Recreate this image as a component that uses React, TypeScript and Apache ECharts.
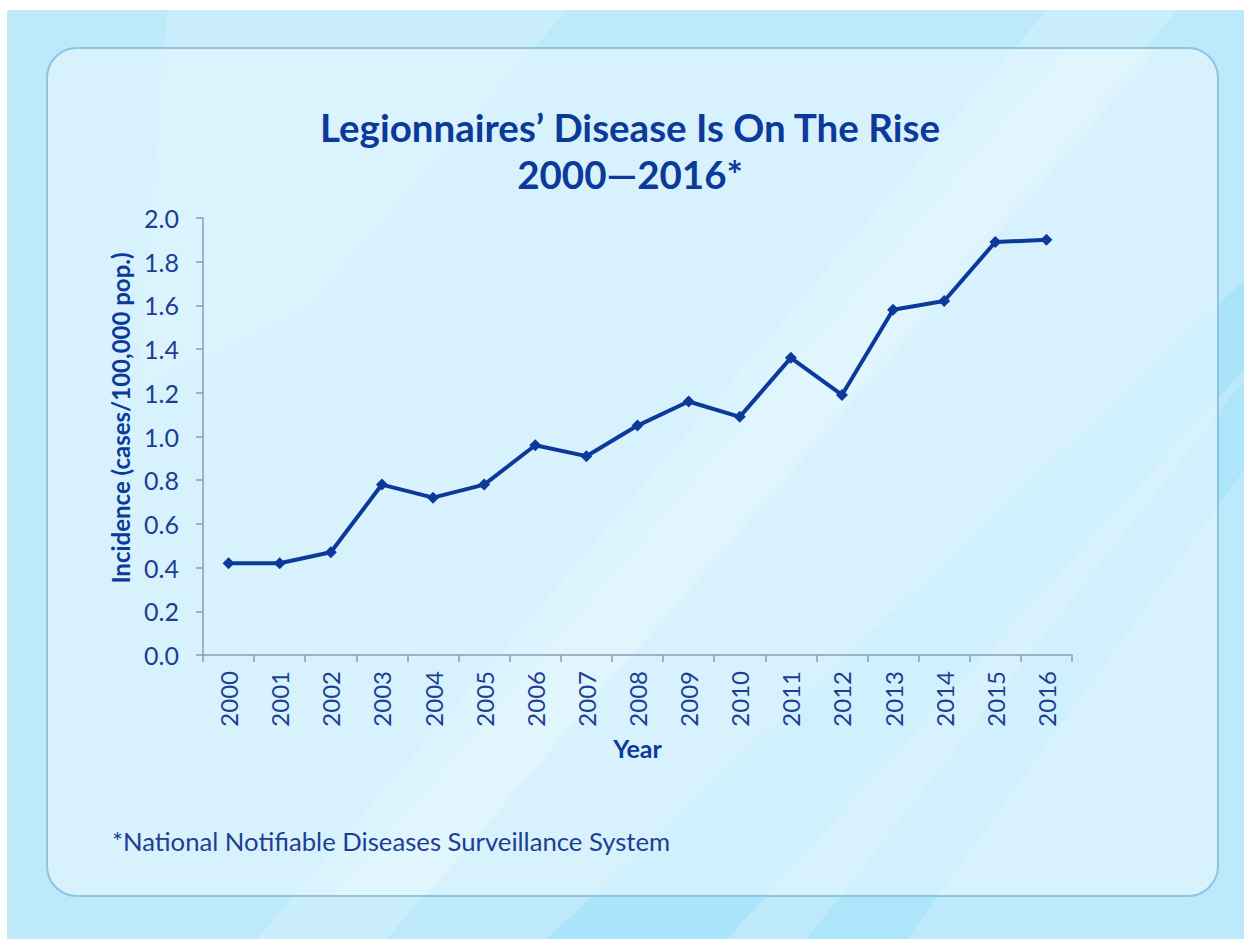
import React, { useEffect, useRef } from "react";
import * as echarts from "echarts";

const years = ["2000","2001","2002","2003","2004","2005","2006","2007","2008","2009","2010","2011","2012","2013","2014","2015","2016"];
const incidence = [0.42, 0.42, 0.47, 0.78, 0.72, 0.78, 0.96, 0.91, 1.05, 1.16, 1.09, 1.36, 1.19, 1.58, 1.62, 1.89, 1.90];
const titleLines = ["Legionnaires\u2019 Disease Is On The Rise", "2000\u20142016*"];
const footnote = "*National Notifiable Diseases Surveillance System";
const yAxisName = "Incidence (cases/100,000 pop.)";
const xAxisName = "Year";

const FONT = "Lato, 'Open Sans', sans-serif";
const TEXT_BLUE = "#1c3f91";
const DARK_BLUE = "#0b3a9a";

export default function App() {
  const ref = useRef<HTMLDivElement>(null);
  useEffect(() => {
    if (!ref.current) return;
    const chart = echarts.init(ref.current, undefined, { renderer: "svg" });
    const W = 1237, H = 929;
    chart.setOption({
      animation: false,
      backgroundColor: "#bde9fb",
      graphic: {
        elements: [
          { type: "polygon", z: -10, shape: { points: [[1040, 0], [1170, 0], [380, H], [250, H]] }, style: { fill: "rgba(255,255,255,0.22)" } },
          { type: "polygon", z: -10, shape: { points: [[160, 0], [560, 0], [300, 300], [130, 380]] }, style: { fill: "rgba(255,255,255,0.18)" } },
          { type: "polygon", z: -10, shape: { points: [[W, 270], [W, 360], [720, H], [540, H]] }, style: { fill: "rgba(120,215,250,0.28)" } },
          { type: "polygon", z: -10, shape: { points: [[W, 370], [W, 460], [900, H], [800, H]] }, style: { fill: "rgba(120,215,250,0.22)" } },
          {
            type: "rect", z: -5,
            shape: { x: 40, y: 38, width: 1171, height: 848, r: 30 },
            style: { fill: "rgba(230,247,253,0.62)", stroke: "#8fc4e0", lineWidth: 2 },
          },
          { type: "polygon", z: -4, shape: { points: [[1060, 40], [1150, 40], [420, 885], [330, 885]] }, style: { fill: "rgba(255,255,255,0.16)" } },
          {
            type: "text", z: 10, x: 623, y: 117,
            style: { text: titleLines[0], fill: DARK_BLUE, font: `bold 38.5px ${FONT}`, textAlign: "center", textVerticalAlign: "middle" },
          },
          {
            type: "text", z: 10, x: 623, y: 164,
            style: { text: titleLines[1], fill: DARK_BLUE, font: `bold 38.5px ${FONT}`, textAlign: "center", textVerticalAlign: "middle" },
          },
          {
            type: "text", z: 10, x: 105, y: 831,
            style: { text: footnote, fill: TEXT_BLUE, font: `25.7px ${FONT}`, textAlign: "left", textVerticalAlign: "middle" },
          },
          {
            type: "text", z: 10, x: 113, y: 408, rotation: Math.PI / 2,
            style: { text: yAxisName, fill: DARK_BLUE, font: `bold 24px ${FONT}`, textAlign: "center", textVerticalAlign: "middle" },
          },
        ],
      },
      grid: { left: 196, top: 208, width: 869, height: 437, containLabel: false },
      xAxis: {
        type: "category",
        data: years,
        boundaryGap: true,
        name: xAxisName,
        nameLocation: "middle",
        nameGap: 80,
        nameTextStyle: { color: DARK_BLUE, fontFamily: FONT, fontWeight: "bold", fontSize: 25 },
        axisLine: { lineStyle: { color: "#8a9cb8", width: 1.5 } },
        axisTick: { show: true, alignWithLabel: false, length: 7, lineStyle: { color: "#8a9cb8", width: 1.5 } },
        axisLabel: { rotate: 90, margin: 16, color: TEXT_BLUE, fontFamily: FONT, fontSize: 24 },
        splitLine: { show: false },
      },
      yAxis: {
        type: "value",
        min: 0,
        max: 2,
        interval: 0.2,
        axisLine: { show: true, lineStyle: { color: "#8a9cb8", width: 1.5 } },
        axisTick: { show: true, length: 7, lineStyle: { color: "#8a9cb8", width: 1.5 } },
        axisLabel: { margin: 24, color: TEXT_BLUE, fontFamily: FONT, fontSize: 25, formatter: (v: number) => v.toFixed(1) },
        splitLine: { show: false },
      },
      series: [
        {
          type: "line",
          data: incidence,
          symbol: "diamond",
          symbolSize: 12,
          lineStyle: { color: DARK_BLUE, width: 4 },
          itemStyle: { color: DARK_BLUE },
        },
      ],
    });
    return () => chart.dispose();
  }, []);
  return <div ref={ref} style={{ position: "absolute", left: 7, top: 10, width: 1237, height: 929 }} />;
}
